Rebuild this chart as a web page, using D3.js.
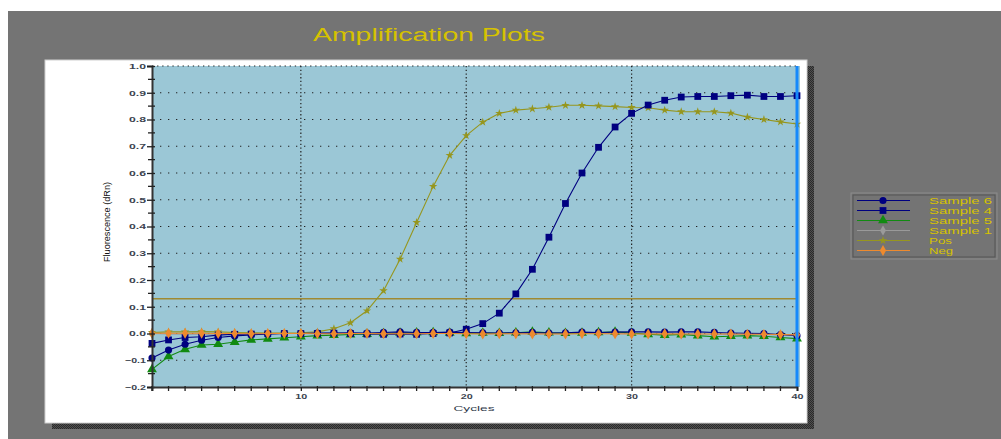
<!DOCTYPE html>
<html>
<head>
<meta charset="utf-8">
<script src="https://cdn.jsdelivr.net/npm/d3@7"></script>
<style>
  body { margin: 0; background: #fff; }
  svg { display: block; font-family: "Liberation Sans", Arial, sans-serif; }
</style>
</head>
<body>
<div class="amp__chart"></div>
<script>
// cycles 1..40
var cycles = d3.range(1, 41);

var sample6 = [-0.092,-0.062,-0.040,-0.025,-0.015,-0.009,-0.005,-0.002,0.000,0.000,0.002,0.002,0.003,0.002,0.004,0.006,0.004,0.004,0.005,0.004,
               0.003,0.002,0.003,0.004,0.002,0.003,0.005,0.004,0.005,0.006,0.006,0.005,0.006,0.006,0.004,0.002,0.001,0.000,-0.004,-0.008];
var sample4 = [-0.037,-0.024,-0.015,-0.012,-0.006,-0.003,-0.002,-0.001,0.000,0.000,0.000,0.001,0.000,-0.002,-0.003,-0.002,-0.003,0.000,0.002,0.016,
               0.037,0.076,0.148,0.240,0.360,0.486,0.600,0.696,0.772,0.823,0.854,0.872,0.884,0.886,0.886,0.889,0.891,0.886,0.886,0.889];
var sample5 = [-0.134,-0.086,-0.059,-0.043,-0.040,-0.032,-0.024,-0.020,-0.016,-0.012,-0.008,-0.006,-0.004,-0.002,0.000,0.002,0.003,0.004,0.002,0.000,
               0.002,0.001,0.003,0.006,0.003,0.001,0.002,0.004,0.006,0.002,-0.003,-0.006,-0.004,-0.008,-0.012,-0.010,-0.008,-0.010,-0.015,-0.019];
var sample1 = [0.000,-0.002,-0.003,-0.002,-0.003,-0.002,-0.001,-0.001,0.000,0.000,0.001,0.000,0.001,0.000,0.001,0.001,0.000,0.001,0.000,0.000,
               -0.001,0.000,-0.001,0.000,0.000,-0.001,0.000,0.000,-0.001,0.000,-0.001,-0.002,-0.002,-0.002,-0.003,-0.003,-0.003,-0.004,-0.005,-0.006];
var pos     = [0.004,0.006,0.006,0.007,0.006,0.004,0.003,0.002,0.002,0.003,0.006,0.018,0.040,0.085,0.160,0.278,0.415,0.550,0.666,0.740,
               0.790,0.823,0.835,0.840,0.846,0.853,0.853,0.851,0.848,0.845,0.844,0.835,0.829,0.829,0.829,0.824,0.809,0.800,0.791,0.783];
var neg     = [0.001,0.001,0.001,0.001,0.000,0.000,-0.001,0.000,0.000,0.000,-0.001,-0.001,0.000,0.000,-0.001,-0.001,-0.001,0.000,0.000,-0.001,
               -0.002,-0.001,-0.001,-0.002,-0.002,-0.002,-0.001,-0.001,-0.001,-0.002,-0.002,-0.001,-0.002,-0.002,-0.002,-0.002,-0.003,-0.003,-0.004,-0.005];

var threshold = 0.13;

var yTicks = [-0.2,-0.1,0.0,0.1,0.2,0.3,0.4,0.5,0.6,0.7,0.8,0.9,1.0];
var xTicks = [10, 20, 30, 40];

var legendNames = ["Sample 6", "Sample 4", "Sample 5", "Sample 1", "Pos", "Neg"];

// series in drawing order
var series = [
  {name: "Pos",      values: pos,     color: "#96961e", sym: d3.symbolStar,     size: 22},
  {name: "Sample 1", values: sample1, color: "#9a9a9a", sym: d3.symbolDiamond,  size: 30},
  {name: "Sample 5", values: sample5, color: "#118a11", sym: d3.symbolTriangle, size: 42},
  {name: "Sample 6", values: sample6, color: "#000080", sym: d3.symbolCircle,   size: 40},
  {name: "Sample 4", values: sample4, color: "#000080", sym: d3.symbolSquare,   size: 46},
  {name: "Neg",      values: neg,     color: "#ee8a2e", sym: d3.symbolDiamond,  size: 34}
];

var W = 1001, H = 439;
var plot = {left: 152, right: 797, top: 66, bottom: 387};

var svg = d3.select(".amp__chart")
    .append("svg")
    .attr("width", W)
    .attr("height", H);

// dotted shadow pattern
var pat = svg.append("defs").append("pattern")
    .attr("id", "shade").attr("width", 2).attr("height", 2)
    .attr("patternUnits", "userSpaceOnUse");
pat.append("rect").attr("width", 2).attr("height", 2).attr("fill", "#505050");
pat.append("rect").attr("width", 1).attr("height", 1).attr("fill", "#2a2a2a");
pat.append("rect").attr("x", 1).attr("y", 1).attr("width", 1).attr("height", 1).attr("fill", "#2a2a2a");

// window background
svg.append("rect").attr("x", 8).attr("y", 11).attr("width", W - 8).attr("height", H - 11).attr("fill", "#747474");

// panel shadow + panel
svg.append("rect").attr("x", 52).attr("y", 66).attr("width", 762).attr("height", 363).attr("fill", "url(#shade)");
svg.append("rect").attr("x", 45).attr("y", 60).attr("width", 762).attr("height", 363)
    .attr("fill", "#fff").attr("stroke", "#d0d0d0").attr("stroke-width", 1);

// title
svg.append("text")
    .attr("x", 313).attr("y", 41)
    .attr("textLength", 232).attr("lengthAdjust", "spacingAndGlyphs")
    .attr("font-size", 18)
    .attr("fill", "#d6c200")
    .text("Amplification Plots");

var x = d3.scaleLinear().domain([1, 40]).range([plot.left, plot.right]);
var y = d3.scaleLinear().domain([-0.2, 1.0]).range([plot.bottom, plot.top]);

// plot background
svg.append("rect")
    .attr("x", plot.left).attr("y", plot.top)
    .attr("width", x(40) - x(1) + 3).attr("height", y(-0.2) - y(1.0))
    .attr("fill", "#9bc7d6");

// grid
var grid = svg.append("g");
grid.selectAll(".hgrid")
    .data(yTicks.filter(function(d){ return d > -0.15; }))
    .enter().append("line")
    .attr("x1", plot.left).attr("x2", plot.right)
    .attr("y1", function(d){ return y(d); }).attr("y2", function(d){ return y(d); })
    .attr("stroke", "#222")
    .attr("stroke-width", 1.2)
    .attr("stroke-dasharray", function(d){ return d > 0.95 ? "1.3,3.8" : "1.3,6.7"; });

grid.selectAll(".vgrid")
    .data([10, 20, 30])
    .enter().append("line")
    .attr("x1", function(d){ return x(d); }).attr("x2", function(d){ return x(d); })
    .attr("y1", plot.top).attr("y2", plot.bottom)
    .attr("stroke", "#222")
    .attr("stroke-width", 1.2)
    .attr("stroke-dasharray", "1.3,2.4");

// threshold line
svg.append("line")
    .attr("x1", plot.left).attr("x2", plot.right)
    .attr("y1", y(threshold)).attr("y2", y(threshold))
    .attr("stroke", "#a08a32")
    .attr("stroke-width", 1.5);

// series
var line = d3.line()
    .x(function(d, i){ return x(cycles[i]); })
    .y(function(d){ return y(d); });

series.forEach(function(s){
  var g = svg.append("g");
  g.append("path")
    .datum(s.values)
    .attr("fill", "none")
    .attr("stroke", s.color)
    .attr("stroke-width", 1.1)
    .attr("d", line);
  g.selectAll("path.mk")
    .data(s.values)
    .enter().append("path")
    .attr("class", "mk")
    .attr("transform", function(d, i){ return "translate(" + x(cycles[i]) + "," + y(d) + ")"; })
    .attr("d", d3.symbol().type(s.sym).size(s.size))
    .attr("fill", s.color);
});

// end cursor line at cycle 40
svg.append("line")
    .attr("x1", x(40)).attr("x2", x(40))
    .attr("y1", plot.top).attr("y2", plot.bottom)
    .attr("stroke", "#1689fb")
    .attr("stroke-width", 3);

// y axis
var yAxis = svg.append("g")
    .attr("transform", "translate(" + plot.left + ",0)")
    .call(d3.axisLeft(y).tickValues(yTicks).tickFormat(d3.format(".1f")).tickSize(5).tickPadding(1));
yAxis.select(".domain").attr("stroke", "#333").attr("stroke-width", 2);
yAxis.selectAll(".tick line").attr("stroke", "#222").attr("stroke-width", 1.3).attr("x2", -5).attr("x1", 3);
yAxis.selectAll(".tick text")
    .attr("font-size", 7.5)
    .attr("fill", "#3d4450")
    .attr("font-weight", "bold")
    .attr("textLength", function(d){ return d < 0 ? 21 : 17; })
    .attr("lengthAdjust", "spacingAndGlyphs");

// minor y ticks
svg.append("g").selectAll("line")
    .data(d3.range(-0.15, 1.0, 0.1))
    .enter().append("line")
    .attr("x1", plot.left - 4).attr("x2", plot.left + 3)
    .attr("y1", function(d){ return y(d); }).attr("y2", function(d){ return y(d); })
    .attr("stroke", "#222").attr("stroke-width", 1.3);

// x axis
var xAxis = svg.append("g")
    .attr("transform", "translate(0," + plot.bottom + ")")
    .call(d3.axisBottom(x).tickValues(xTicks).tickSize(4).tickPadding(3));
xAxis.select(".domain").attr("stroke", "#333").attr("stroke-width", 2);
xAxis.selectAll(".tick line").attr("stroke", "#222").attr("stroke-width", 1.3);
xAxis.selectAll(".tick text")
    .attr("font-size", 7.5)
    .attr("fill", "#3d4450")
    .attr("font-weight", "bold")
    .attr("textLength", 12)
    .attr("lengthAdjust", "spacingAndGlyphs");

// minor x ticks every cycle
svg.append("g").selectAll("line")
    .data(cycles.filter(function(c){ return c % 10 !== 0; }))
    .enter().append("line")
    .attr("x1", function(d){ return x(d); }).attr("x2", function(d){ return x(d); })
    .attr("y1", plot.bottom - 1).attr("y2", plot.bottom + 4)
    .attr("stroke", "#222").attr("stroke-width", 1.3);

// axis titles
svg.append("text")
    .attr("x", 474).attr("y", 411)
    .attr("text-anchor", "middle")
    .attr("font-size", 8)
    .attr("fill", "#2f3a4a")
    .attr("textLength", 41).attr("lengthAdjust", "spacingAndGlyphs")
    .text("Cycles");

svg.append("text")
    .attr("transform", "translate(110,222) rotate(-90)")
    .attr("text-anchor", "middle")
    .attr("font-size", 9)
    .attr("fill", "#111")
    .attr("textLength", 80).attr("lengthAdjust", "spacingAndGlyphs")
    .text("Fluorescence (dRn)");

// legend
var legend = svg.append("g");
legend.append("rect")
    .attr("x", 851).attr("y", 193).attr("width", 146).attr("height", 66)
    .attr("fill", "#747474").attr("stroke", "#8c8c8c").attr("stroke-width", 1);
legend.append("rect")
    .attr("x", 853).attr("y", 195).attr("width", 142).attr("height", 62)
    .attr("fill", "none").attr("stroke", "#555").attr("stroke-width", 1);

var legendRowY = [200, 210, 220, 230, 240, 250];
var textLens = {"Sample 6": 63, "Sample 4": 63, "Sample 5": 63, "Sample 1": 63, "Pos": 23, "Neg": 24};

legendNames.forEach(function(name, i){
  var s = series.filter(function(d){ return d.name === name; })[0];
  var ly = legendRowY[i] + 0.5;
  legend.append("line")
    .attr("x1", 857).attr("x2", 910)
    .attr("y1", ly).attr("y2", ly)
    .attr("stroke", s.color).attr("stroke-width", 1.2);
  legend.append("path")
    .attr("transform", "translate(883," + ly + ")")
    .attr("d", d3.symbol().type(s.sym).size(s.size))
    .attr("fill", s.color);
  legend.append("text")
    .attr("x", 929).attr("y", ly + 3.5)
    .attr("font-size", 8.5)
    .attr("fill", "#d6c200")
    .attr("textLength", textLens[name]).attr("lengthAdjust", "spacingAndGlyphs")
    .text(name);
});
</script>
</body>
</html>
